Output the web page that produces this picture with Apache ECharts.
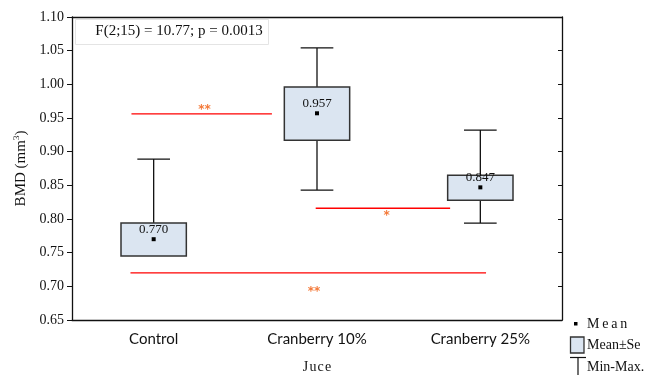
<!DOCTYPE html>
<html>
<head>
<meta charset="utf-8">
<script src="https://cdn.jsdelivr.net/npm/echarts@6/dist/echarts.min.js"></script>
<style>html,body{margin:0;padding:0;background:#fff;}#c{width:658px;height:375px;}</style>
</head>
<body>
<div id="c"></div>
<script>
// ---- data ----
const categories = ['Control', 'Cranberry 10%', 'Cranberry 25%'];
const meanVals = [0.770, 0.957, 0.847];
const seLow   = [0.745, 0.917, 0.828];
const seHigh  = [0.794, 0.996, 0.865];
const minVals = [0.746, 0.843, 0.794];
const maxVals = [0.889, 1.054, 0.932];
const yTicks = ['0.65','0.70','0.75','0.80','0.85','0.90','0.95','1.00','1.05','1.10'];
// significance bars: [xStart, xEnd, y] in category units
const sigLines = [[-0.136, 0.724, 0.956], [0.992, 1.815, 0.816], [-0.142, 2.035, 0.720]];
const sigMarks = ['**', '*', '**'];
const sigMarkX = [0.311, 1.427, 0.982];
const sigMarkY = [0.962, 0.804, 0.692];
const statText = 'F(2;15) = 10.77; p = 0.0013';

const SERIF = '"Liberation Serif", "Times New Roman", serif';
const TS = '\u2009', HS = '\u200a';
const chart = echarts.init(document.getElementById('c'));

const boxData = categories.map((c, i) => [i, minVals[i], seLow[i], meanVals[i], seHigh[i], maxVals[i]]);
const lineData = sigLines.map(l => [l[0], l[1], l[2]]);
const markData = sigMarks.map((m, i) => [sigMarkX[i], sigMarkY[i], m]);

function renderBox(params, api) {
  const i = api.value(0);
  const band = api.size([1, 0])[0];
  const bw = band * 0.4, cw = band * 0.2;
  const pMin = api.coord([i, api.value(1)]);
  const pLo = api.coord([i, api.value(2)]);
  const pMean = api.coord([i, api.value(3)]);
  const pHi = api.coord([i, api.value(4)]);
  const pMax = api.coord([i, api.value(5)]);
  const x = pMean[0];
  const ls = {stroke: '#111', lineWidth: 1.3};
  return {
    type: 'group',
    children: [
      {type: 'line', shape: {x1: x, y1: pMax[1], x2: x, y2: pHi[1]}, style: ls},
      {type: 'line', shape: {x1: x - cw / 2, y1: pMax[1], x2: x + cw / 2, y2: pMax[1]}, style: ls},
      {type: 'line', shape: {x1: x, y1: pLo[1], x2: x, y2: pMin[1]}, style: ls},
      {type: 'line', shape: {x1: x - cw / 2, y1: pMin[1], x2: x + cw / 2, y2: pMin[1]}, style: {stroke: pMin[1] - pLo[1] > 1 ? '#111' : 'transparent', lineWidth: 1.3}},
      {type: 'rect', shape: {x: x - bw / 2, y: pHi[1], width: bw, height: pLo[1] - pHi[1]}, style: {fill: '#dbe5f1', stroke: '#333', lineWidth: 1.5}},
      {type: 'rect', shape: {x: x - 2, y: pMean[1] - 2, width: 4, height: 4}, style: {fill: '#000'}},
      {type: 'text', x: x, y: pMean[1] - 10, style: {text: api.value(3).toFixed(3), font: '13px ' + SERIF, fill: '#111', align: 'center', verticalAlign: 'middle'}}
    ]
  };
}

function renderLine(params, api) {
  const a = api.coord([api.value(0), api.value(2)]);
  const b = api.coord([api.value(1), api.value(2)]);
  return {type: 'line', shape: {x1: a[0], y1: a[1], x2: b[0], y2: b[1]}, style: {stroke: '#ff0000', lineWidth: 1.3}};
}

function renderMark(params, api) {
  const p = api.coord([api.value(0), api.value(1)]);
  return {type: 'text', x: p[0], y: p[1], style: {text: markData[params.dataIndex][2], font: 'bold 12px "DejaVu Sans", sans-serif', fill: '#f47a3a', align: 'center', verticalAlign: 'middle'}};
}

const lx = 570, lt = 587;
const option = {
  animation: false,
  backgroundColor: '#fff',
  grid: {left: 72, right: 96, top: 17, bottom: 55, containLabel: false, outerBoundsMode: 'none'},
  xAxis: [
    {type: 'category', data: categories, position: 'bottom', boundaryGap: true,
      axisLine: {onZero: false, lineStyle: {color: '#111', width: 1.3}},
      axisTick: {alignWithLabel: true, inside: true, length: 4, lineStyle: {color: '#111'}},
      axisLabel: {fontFamily: 'Lato, "Open Sans", sans-serif', fontSize: 15, color: '#111', margin: 12},
      name: 'J' + HS + 'u' + HS + 'c' + HS + 'e', nameLocation: 'middle', nameGap: 40,
      nameTextStyle: {fontFamily: SERIF, fontSize: 14, color: '#111'}},
    {type: 'category', data: categories, position: 'top', boundaryGap: true,
      axisLine: {onZero: false, lineStyle: {color: '#111', width: 1.3}},
      axisTick: {alignWithLabel: true, inside: true, length: 4, lineStyle: {color: '#111'}},
      axisLabel: {show: false}},
    {type: 'value', min: -0.5, max: 2.5, show: false, axisLine: {onZero: false}}
  ],
  yAxis: [
    {type: 'value', min: 0.65, max: 1.10, interval: 0.05, position: 'left',
      splitLine: {show: false},
      axisLine: {show: true, onZero: false, lineStyle: {color: '#111', width: 1.3}},
      axisTick: {show: true, length: 5, lineStyle: {color: '#111'}},
      axisLabel: {fontFamily: SERIF, fontSize: 14, color: '#111', margin: 8,
        formatter: (v) => yTicks[Math.round((v - 0.65) / 0.05)]},
      name: '{a|BMD (mm}{s|3}{a|)}', nameLocation: 'middle', nameGap: 42, nameRotate: 90,
      nameTextStyle: {rich: {a: {fontFamily: SERIF, fontSize: 15, color: '#111'}, s: {fontFamily: SERIF, fontSize: 9, color: '#111', verticalAlign: 'top', padding: [0, 0, 8, 0]}}}},
    {type: 'value', min: 0.65, max: 1.10, interval: 0.05, position: 'right',
      splitLine: {show: false},
      axisLine: {show: true, onZero: false, lineStyle: {color: '#111', width: 1.3}},
      axisTick: {show: true, inside: true, length: 4, lineStyle: {color: '#111'}},
      axisLabel: {show: false}}
  ],
  series: [
    {type: 'custom', xAxisIndex: 2, yAxisIndex: 0, data: lineData, renderItem: renderLine, z: 2},
    {type: 'custom', xAxisIndex: 2, yAxisIndex: 0, data: markData.map(d => [d[0], d[1]]), renderItem: renderMark, z: 2},
    {type: 'custom', xAxisIndex: 0, yAxisIndex: 0, data: boxData, renderItem: renderBox, z: 3}
  ],
  graphic: [
    {type: 'rect', left: 75, top: 19, shape: {width: 193, height: 25}, style: {fill: '#fff', stroke: '#e4e4e4', lineWidth: 1}, z: 10},
    {type: 'text', x: 179, y: 31.5, style: {text: statText, font: '15px ' + SERIF, fill: '#111', align: 'center', verticalAlign: 'middle'}, z: 11},
    // legend
    {type: 'rect', shape: {x: 574, y: 322, width: 3.5, height: 3.5}, style: {fill: '#000'}},
    {type: 'text', x: lt, y: 324.5, style: {text: 'M' + TS + 'e' + TS + 'a' + TS + 'n', font: '14px ' + SERIF, fill: '#111', verticalAlign: 'middle'}},
    {type: 'rect', shape: {x: lx + 0.5, y: 337, width: 13.5, height: 16}, style: {fill: '#dbe5f1', stroke: '#333', lineWidth: 1.3}},
    {type: 'text', x: lt, y: 345.5, style: {text: 'Mean\u00b1Se', font: '14px ' + SERIF, fill: '#111', verticalAlign: 'middle'}},
    {type: 'line', shape: {x1: lx, y1: 357.5, x2: lx + 16, y2: 357.5}, style: {stroke: '#111', lineWidth: 1.2}},
    {type: 'line', shape: {x1: lx + 8, y1: 357.5, x2: lx + 8, y2: 375}, style: {stroke: '#111', lineWidth: 1.2}},
    {type: 'text', x: lt, y: 367.5, style: {text: 'Min-Max.', font: '14px ' + SERIF, fill: '#111', verticalAlign: 'middle'}}
  ]
};
chart.setOption(option);
</script>
</body>
</html>
